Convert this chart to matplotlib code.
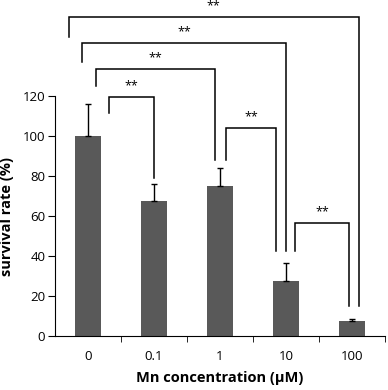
import numpy as np
import matplotlib.pyplot as plt

plt.rcParams['font.family'] = ['Open Sans', 'DejaVu Sans']

# data
conc = ['0', '0.1', '1', '10', '100']
survival = [100, 67.5, 75, 27.5, 7.5]
sd = [16, 8.5, 9, 9, 1]

# significance brackets: (left x, right x, top y, left leg bottom, right leg bottom)
brackets = [
    (0.32, 1.00, 119.5, 111.5, 79),
    (0.12, 1.92, 133.5, 125, 88),
    (-0.09, 3.00, 146.5, 137, 42.5),
    (-0.29, 4.10, 159.5, 149.5, 15),
    (2.09, 2.85, 104, 88, 42.5),
    (3.14, 3.95, 56.5, 42.5, 15),
]
stars = ['**'] * len(brackets)

fig = plt.figure(figsize=(3.88, 3.90), dpi=100)
ax = fig.add_axes([55/388, 54/390, 330/388, 336/390])

x = np.arange(len(conc))
ax.bar(x, survival, width=0.4, color='#595959', zorder=2)
ax.errorbar(x, survival, yerr=[np.zeros(len(sd)), sd], fmt='none',
            ecolor='black', elinewidth=1, capsize=2.2, capthick=1, zorder=3)

for (xl, xr, top, bl, br), s in zip(brackets, stars):
    ax.plot([xl, xl, xr, xr], [bl, top, top, br], color='black', lw=1.1,
            clip_on=False, solid_joinstyle='miter')
    ax.text((xl + xr) / 2, top + 2.5, s, ha='center', va='bottom', fontsize=9)

ax.set_xlim(-0.5, 4.5)
ax.set_ylim(0, 168)
ax.set_yticks(np.arange(0, 121, 20))
ax.set_xticks(x)
ax.set_xticklabels(conc)
ax.set_xticks(np.arange(0.5, 4.6, 1), minor=True)
ax.tick_params(axis='x', which='major', length=0, pad=10, labelsize=9.5)
ax.tick_params(axis='x', which='minor', length=4, direction='out')
ax.tick_params(axis='y', length=5, direction='out', pad=2, labelsize=9.5)

for side in ['top', 'right']:
    ax.spines[side].set_visible(False)
ax.spines['left'].set_bounds(0, 120)

ax.set_ylabel('survival rate (%)', fontsize=10.5, fontweight='bold')
ax.set_xlabel('Mn concentration (μM)', fontsize=10.5, fontweight='bold', labelpad=6)
ax.yaxis.set_label_coords(-0.125, 120 / 168 / 2)

fig.savefig('out.png', dpi=100)
